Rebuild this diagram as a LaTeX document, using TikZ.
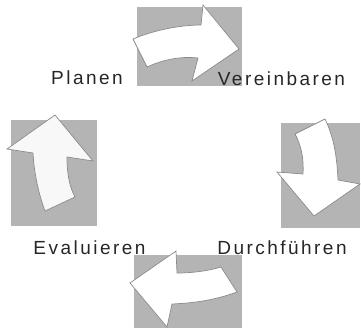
\documentclass[tikz,border=0pt]{standalone}
\usepackage{fontspec}
\newfontfamily\labelfont[LetterSpace=13]{Liberation Sans}
\begin{document}
\begin{tikzpicture}[x=1pt,y=-1pt,
  panel/.style={fill=panelgray,draw=none},
  bentarrow/.style={fill=white,draw=edgegray,line width=0.7pt,line join=miter},
  phase/.style={font=\labelfont\fontsize{19}{21}\selectfont,text=labeltext,inner sep=0pt,anchor=center}]
\definecolor{panelgray}{HTML}{B4B4B4}
\definecolor{edgegray}{HTML}{8A8A8A}
\definecolor{labeltext}{HTML}{262626}
\definecolor{paleface}{HTML}{F8F8F8}
\useasboundingbox (0,0) rectangle (361,330);

% grey panels behind the arrows
\fill[panel] (137,7) rectangle (242,86);
\fill[panel] (281,123) rectangle (360,228);
\fill[panel] (11,120) rectangle (97,226);
\fill[panel] (134,255) rectangle (242,328);

% top arrow, pointing right
\draw[bentarrow] (133,39) .. controls (152,31) and (178,25) .. (201,25)
  -- (203,5) -- (239,49) -- (192,81) -- (198,58)
  .. controls (180,56) and (162,60) .. (147,67) -- cycle;

% right arrow, pointing down
\draw[bentarrow] (325,119) .. controls (333,135) and (337,155) .. (338,180)
  -- (360,184) -- (314,216) -- (277,172) -- (303,174)
  .. controls (304,158) and (301,145) .. (295,134) -- cycle;

% bottom arrow, pointing left
\draw[bentarrow] (237,292) .. controls (215,300) and (195,303) .. (172,304)
  -- (167,327) -- (130,283) -- (176,251) -- (177,273)
  .. controls (192,273) and (208,271) .. (221,267) -- cycle;

% left arrow, pointing up
\draw[bentarrow,fill=paleface] (45,211) .. controls (38,192) and (34,172) .. (33,153)
  -- (7,149) -- (55,115) -- (93,161) -- (67,157)
  .. controls (67,172) and (69,186) .. (75,197) -- cycle;

% phase labels
\node[phase] (plan) at (87,78) {Planen};
\node[phase] (agree) at (281.5,79) {Vereinbaren};
\node[phase] (eval) at (89.5,248) {Evaluieren};
\node[phase] (run) at (282,248) {Durchführen};
\end{tikzpicture}
\end{document}
